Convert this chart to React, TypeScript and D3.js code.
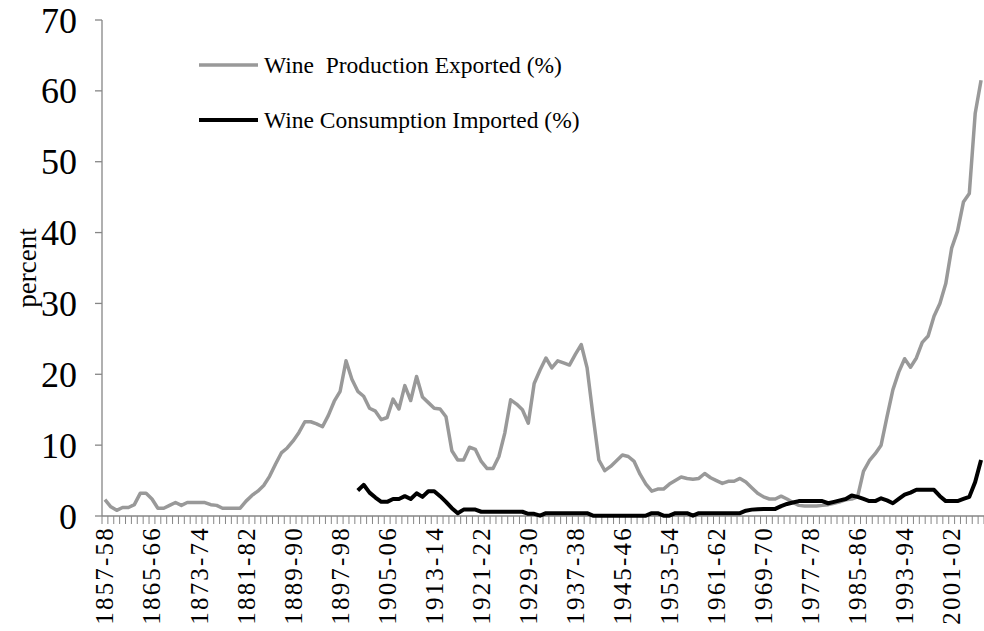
import React from "react";
import * as d3 from "d3";

const firstYear = 1857;
const nCategories = 150;
const categories: string[] = d3.range(nCategories).map((i) => {
  const y = firstYear + i;
  return `${y}-${String((y + 1) % 100).padStart(2, "0")}`;
});

const tickLabels = [
  "1857-58", "1865-66", "1873-74", "1881-82", "1889-90", "1897-98", "1905-06",
  "1913-14", "1921-22", "1929-30", "1937-38", "1945-46", "1953-54", "1961-62",
  "1969-70", "1977-78", "1985-86", "1993-94", "2001-02",
];

const yTicks = [0, 10, 20, 30, 40, 50, 60, 70];

const exported: number[] = [
  2.3, 1.3, 0.8, 1.2, 1.2, 1.6, 3.2, 3.2, 2.4, 1.1,
  1.1, 1.5, 1.9, 1.5, 1.9, 1.9, 1.9, 1.9, 1.6, 1.5,
  1.1, 1.1, 1.1, 1.1, 2.1, 2.9, 3.5, 4.3, 5.6, 7.3,
  8.9, 9.6, 10.6, 11.8, 13.3, 13.3, 13.0, 12.6, 14.2, 16.2,
  17.6, 21.9, 19.3, 17.6, 16.9, 15.2, 14.8, 13.6, 13.9, 16.5,
  15.1, 18.4, 16.3, 19.7, 16.8, 16.0, 15.2, 15.1, 14.0, 9.2,
  7.9, 7.9, 9.7, 9.4, 7.7, 6.7, 6.7, 8.4, 11.7, 16.4,
  15.8, 15.0, 13.1, 18.7, 20.6, 22.3, 20.9, 21.9, 21.6, 21.3,
  22.8, 24.2, 20.9, 14.2, 7.9, 6.4, 7.0, 7.8, 8.6, 8.4,
  7.7, 5.9, 4.5, 3.5, 3.8, 3.8, 4.5, 5.0, 5.5, 5.3,
  5.2, 5.3, 6.0, 5.4, 5.0, 4.6, 4.9, 4.9, 5.3, 4.8,
  4.0, 3.2, 2.7, 2.4, 2.4, 2.8, 2.4, 1.9, 1.5, 1.4,
  1.4, 1.4, 1.5, 1.6, 1.8, 2.0, 2.3, 2.4, 2.7, 6.3,
  7.8, 8.8, 10.0, 14.0, 17.8, 20.3, 22.2, 21.0, 22.3, 24.5,
  25.4, 28.2, 30.0, 32.8, 37.8, 40.2, 44.3, 45.5, 56.8, 61.5,
];

const imported: (number | null)[] = [
  null, null, null, null, null, null, null, null, null, null,
  null, null, null, null, null, null, null, null, null, null,
  null, null, null, null, null, null, null, null, null, null,
  null, null, null, null, null, null, null, null, null, null,
  null, null, null, 3.6, 4.4, 3.3, 2.6, 2.0, 2.0, 2.4,
  2.4, 2.8, 2.4, 3.2, 2.7, 3.5, 3.5, 2.8, 2.0, 1.1,
  0.4, 0.9, 0.9, 0.9, 0.6, 0.6, 0.6, 0.6, 0.6, 0.6,
  0.6, 0.6, 0.3, 0.3, 0.05, 0.4, 0.4, 0.4, 0.4, 0.4,
  0.4, 0.4, 0.4, 0.05, 0.05, 0.05, 0.05, 0.05, 0.05, 0.05,
  0.05, 0.05, 0.05, 0.4, 0.4, 0.05, 0.05, 0.4, 0.4, 0.4,
  0.05, 0.4, 0.4, 0.4, 0.4, 0.4, 0.4, 0.4, 0.4, 0.75,
  0.9, 0.95, 1.0, 1.0, 1.0, 1.4, 1.7, 1.9, 2.1, 2.1,
  2.1, 2.1, 2.1, 1.8, 2.0, 2.2, 2.4, 2.9, 2.7, 2.4,
  2.1, 2.1, 2.5, 2.2, 1.8, 2.4, 3.0, 3.3, 3.7, 3.7,
  3.7, 3.7, 2.8, 2.1, 2.1, 2.1, 2.4, 2.7, 4.8, 7.9,
];

const seriesNames = ["Wine\u00a0 Production Exported (%)", "Wine Consumption Imported (%)"];

const W = 984;
const H = 631;
const left = 102;
const right = 984;
const top = 20;
const bottom = 516;
const FONT = "'Liberation Serif', 'Times New Roman', serif";
const AXIS = "#868686";
const GRAY = "#999999";

export default function App() {
  const x = d3.scaleBand<string>().domain(categories).range([left, right]).paddingInner(0).paddingOuter(0);
  const bw = x.bandwidth();
  const cx = (c: string) => (x(c) as number) + bw / 2;
  const y = d3.scaleLinear().domain([0, 70]).range([bottom, top]);

  const line = d3
    .line<number | null>()
    .defined((d) => d !== null)
    .x((_, i) => cx(categories[i]))
    .y((d) => y(d as number));

  const boundaries = d3.range(nCategories + 1).map((i) => left + i * bw);

  return (
    <svg width={W} height={H} style={{ position: "absolute", left: 0, top: 0, background: "#fff" }} fontFamily={FONT}>
      <rect x={0} y={0} width={W} height={H} fill="#fff" />
      {/* y axis */}
      <line x1={left} x2={left} y1={top} y2={bottom} stroke={AXIS} strokeWidth={1.3} />
      {yTicks.map((t) => (
        <g key={t}>
          <line x1={left - 7} x2={left} y1={y(t)} y2={y(t)} stroke={AXIS} strokeWidth={1.3} />
          <text x={77} y={y(t)} dy="0.35em" textAnchor="end" fontSize={36} fontFamily={FONT} fill="#000">
            {t}
          </text>
        </g>
      ))}
      <text transform={`translate(36,268) rotate(-90)`} textAnchor="middle" fontSize={27} fontFamily={FONT} fill="#000">
        percent
      </text>
      {/* x axis */}
      <line x1={left} x2={right} y1={bottom} y2={bottom} stroke={AXIS} strokeWidth={1.3} />
      {boundaries.map((bx, i) => (
        <line key={i} x1={bx} x2={bx} y1={bottom} y2={bottom + 8} stroke={AXIS} strokeWidth={1} />
      ))}
      {tickLabels.map((lab) => (
        <text
          key={lab}
          transform={`translate(${cx(lab) + 8.5},${526}) rotate(-90)`}
          textAnchor="end"
          fontSize={25}
          fontFamily={FONT}
          letterSpacing={2.2}
          fill="#000"
        >
          {lab}
        </text>
      ))}
      {/* series */}
      <path d={line(exported) || ""} fill="none" stroke={GRAY} strokeWidth={3.5} strokeLinejoin="round" />
      <path d={line(imported) || ""} fill="none" stroke="#000" strokeWidth={4} strokeLinejoin="round" />
      {/* legend */}
      <line x1={199} x2={258} y1={65} y2={65} stroke={GRAY} strokeWidth={3.5} />
      <text x={264} y={65} dy="0.35em" fontSize={23.5} fontFamily={FONT} fill="#000">
        {seriesNames[0]}
      </text>
      <line x1={199} x2={258} y1={120} y2={120} stroke="#000" strokeWidth={4} />
      <text x={264} y={120} dy="0.35em" fontSize={23.5} fontFamily={FONT} fill="#000">
        {seriesNames[1]}
      </text>
    </svg>
  );
}
